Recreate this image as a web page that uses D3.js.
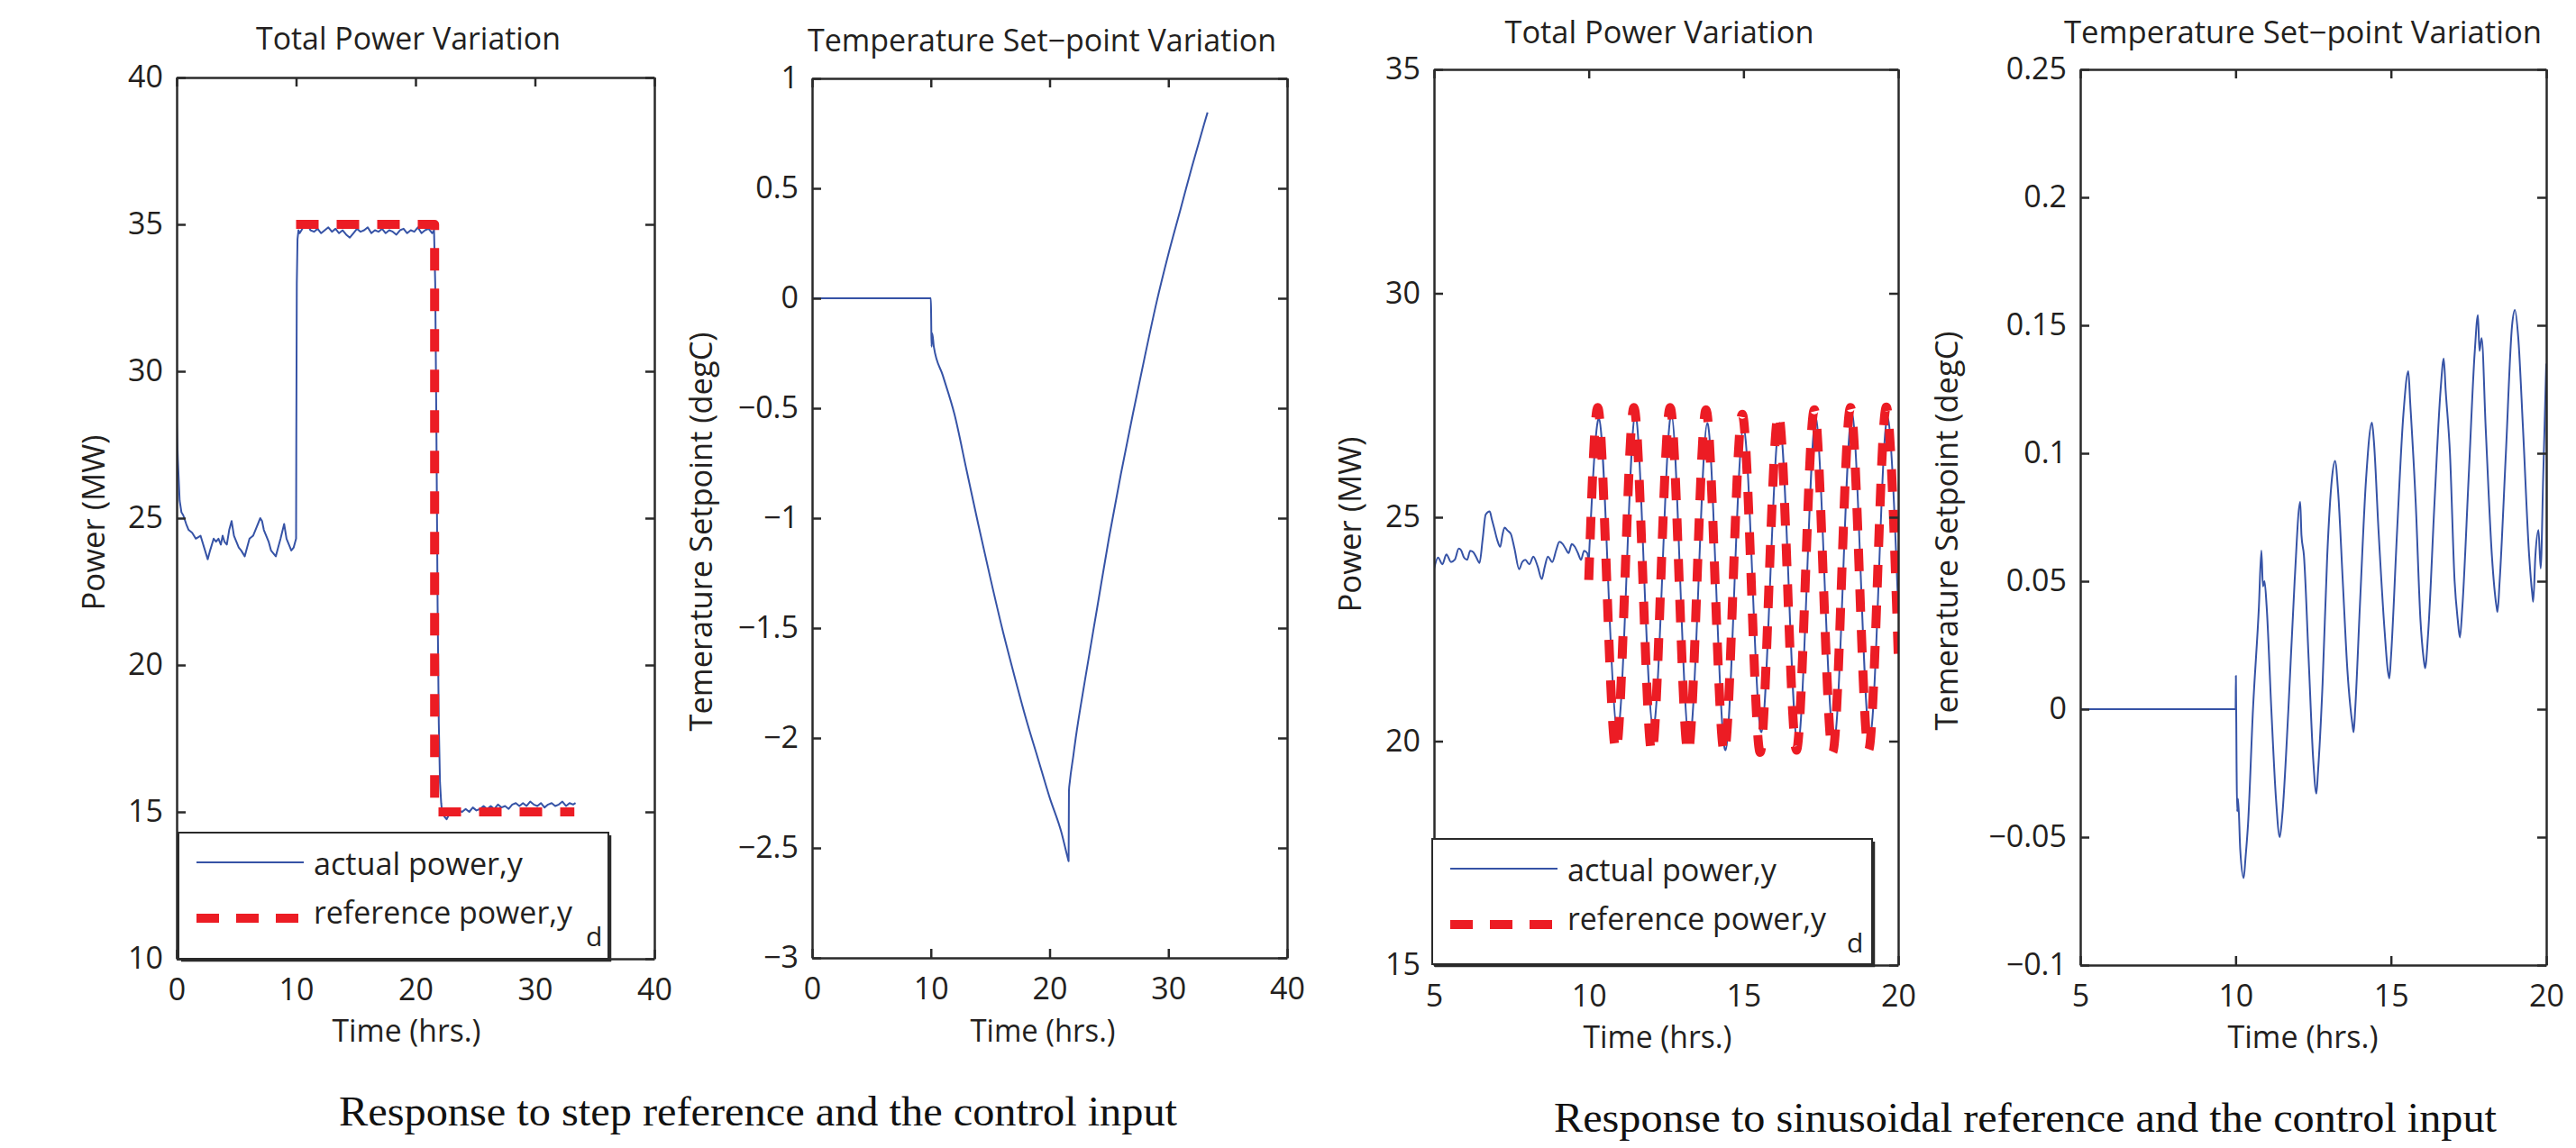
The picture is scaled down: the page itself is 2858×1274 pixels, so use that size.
<!DOCTYPE html>
<html>
<head>
<meta charset="utf-8">
<script src="https://cdn.jsdelivr.net/npm/d3@7"></script>
<style>
  body { margin: 0; background: #fff; }
  svg { display: block; }
</style>
</head>
<body>
<svg id="chart" width="2858" height="1274"></svg>
<script>
// ---------- data ----------

// panel 1: step reference, total power
const p1Time = [0, 0.1, 0.25, 0.4, 0.55, 0.8, 1.0, 1.3, 1.6, 2.0, 2.3, 2.6, 2.8, 3.1, 3.3, 3.5, 3.7, 3.85, 4.0, 4.2,
  4.4, 4.6, 4.8, 5.0, 5.2, 5.4, 5.7, 5.9, 6.1, 6.4, 6.7, 7.0, 7.15, 7.3, 7.5, 7.7, 7.9, 8.1, 8.3, 8.5,
  8.7, 9.0, 9.2, 9.4, 9.6, 9.8, 10.0, 10.02, 10.06, 10.12, 10.2,
  10.3, 10.6, 10.9, 11.2, 11.5, 11.8, 12.1, 12.4, 12.7, 13.0, 13.3, 13.6, 13.9, 14.2, 14.5, 14.8, 15.1, 15.4,
  15.7, 16.0, 16.3, 16.6, 16.9, 17.2, 17.5, 17.8, 18.1, 18.4, 18.7, 19.0, 19.3, 19.6, 19.9, 20.2, 20.5, 20.8,
  21.1, 21.4, 21.55, 21.65, 21.75, 21.85, 21.95, 22.05, 22.15,
  22.2, 22.4, 22.6, 22.8, 23.0, 23.3, 23.6, 23.9, 24.2, 24.5, 24.8, 25.1, 25.4, 25.7, 26.0, 26.3, 26.6, 26.9,
  27.2, 27.5, 27.8, 28.1, 28.4, 28.7, 29.0, 29.3, 29.6, 29.9, 30.2, 30.5, 30.8, 31.1, 31.4, 31.7, 32.0, 32.3,
  32.6, 32.9, 33.2, 33.4];
const p1Power = [28.3, 27.0, 25.6, 25.2, 25.1, 24.8, 24.6, 24.5, 24.3, 24.4, 24.0, 23.6, 23.9, 24.3, 24.2, 24.3, 24.1, 24.4, 24.2, 24.1,
  24.6, 24.9, 24.4, 24.2, 24.0, 23.9, 23.7, 24.0, 24.3, 24.4, 24.7, 25.0, 24.9, 24.6, 24.4, 24.2, 23.9, 23.8, 23.7, 24.0,
  24.3, 24.8, 24.3, 24.1, 23.9, 24.0, 24.3, 28.0, 33.0, 34.5, 34.8,
  34.7, 34.9, 35.05, 34.8, 34.75, 34.85, 34.7, 34.8, 34.9, 34.75, 34.85, 34.7, 34.8, 34.65, 34.55, 34.7, 34.85, 34.75,
  34.8, 34.9, 34.7, 34.8, 34.75, 34.85, 34.7, 34.8, 34.75, 34.65, 34.8, 34.85, 34.7, 34.8, 34.75, 34.9, 34.7, 34.8,
  34.85, 34.7, 34.8, 33.0, 28.0, 22.0, 18.0, 16.0, 15.3,
  15.1, 14.85, 14.75, 14.9, 15.0, 14.95, 15.05, 15.0, 15.1, 15.0, 15.15, 15.05, 15.1, 15.2, 15.1, 15.2, 15.1, 15.25,
  15.15, 15.2, 15.1, 15.25, 15.3, 15.2, 15.3, 15.2, 15.35, 15.25, 15.2, 15.3, 15.15, 15.25, 15.3, 15.2, 15.25, 15.35,
  15.2, 15.3, 15.25, 15.3];
const p1RefTime = [10, 21.6, 21.6, 33.3];
const p1RefPower = [35, 35, 15, 15];
const p1XTicks = [0, 10, 20, 30, 40];
const p1XLabels = ["0", "10", "20", "30", "40"];
const p1YTicks = [10, 15, 20, 25, 30, 35, 40];
const p1YLabels = ["10", "15", "20", "25", "30", "35", "40"];

// panel 2: step reference, temperature set-point
const p2Time = [0, 10, 10.03, 10.06, 10.12, 10.25, 11, 12, 13, 14, 15, 16, 17, 18, 19, 20, 21, 21.55,
  21.6, 21.63, 21.7, 22, 22.2, 23, 24, 25, 26, 27, 28, 29, 30, 31, 32, 33, 33.3];
const p2Setpoint = [0, 0, -0.1, -0.22, -0.16, -0.22, -0.35, -0.53, -0.78, -1.03, -1.27, -1.5, -1.71, -1.91, -2.09, -2.27, -2.43, -2.55,
  -2.56, -2.24, -2.2, -2.08, -2.0, -1.73, -1.41, -1.09, -0.8, -0.53, -0.27, -0.02, 0.2, 0.4, 0.6, 0.79, 0.845];
const p2XTicks = [0, 10, 20, 30, 40];
const p2XLabels = ["0", "10", "20", "30", "40"];
const p2YTicks = [-3, -2.5, -2, -1.5, -1, -0.5, 0, 0.5, 1];
const p2YLabels = ["\u22123", "\u22122.5", "\u22122", "\u22121.5", "\u22121", "\u22120.5", "0", "0.5", "1"];

// panel 3: sinusoidal reference, total power
const p3PreTime = [5.0, 5.13, 5.27, 5.4, 5.55, 5.67, 5.8, 5.87, 5.97, 6.07, 6.17, 6.27, 6.37, 6.47, 6.57, 6.67, 6.8, 6.87,
  6.94, 7.04, 7.14, 7.21, 7.28, 7.38, 7.48, 7.6, 7.75, 7.85, 7.95, 8.08, 8.21, 8.35, 8.48, 8.58, 8.68, 8.82,
  8.95, 9.05, 9.15, 9.25, 9.35, 9.45, 9.55, 9.65, 9.75, 9.85, 9.95, 10.0];
const p3PrePower = [23.84, 24.1, 23.95, 24.17, 24.0, 24.05, 24.3, 24.27, 24.1, 24.05, 24.25, 24.22, 24.1, 23.98, 24.5, 25.06, 25.13, 24.95,
  24.77, 24.5, 24.34, 24.6, 24.77, 24.7, 24.63, 24.3, 23.84, 24.0, 24.05, 23.95, 24.12, 23.9, 23.62, 23.9, 24.12, 24.0,
  24.27, 24.45, 24.41, 24.3, 24.2, 24.4, 24.34, 24.2, 24.05, 24.25, 24.2, 24.0];
const p3SineTime = [10.0, 10.33, 10.62, 10.92, 11.21, 11.5, 11.79, 12.08, 12.37, 12.67, 12.96, 13.25, 13.54, 13.83, 14.12, 14.42,
  14.71, 15.0, 15.29, 15.58, 15.87, 16.17, 16.46, 16.75, 17.04, 17.33, 17.62, 17.92, 18.21, 18.5, 18.79, 19.08,
  19.37, 19.67, 19.96, 20.0];
const p3SinePower = [24.0, 27.2, 23.7, 20.2, 23.5, 27.3, 23.7, 20.3, 23.6, 27.3, 23.5, 20.0, 23.4, 27.1, 23.4, 19.8,
  23.5, 27.0, 23.6, 20.2, 23.7, 27.1, 23.5, 19.9, 23.4, 27.2, 23.6, 20.0, 23.5, 27.3, 23.7, 20.1,
  23.6, 27.2, 23.7, 23.2];
const p3RefTime = [10, 10.29, 10.58, 10.88, 11.17, 11.46, 11.75, 12.04, 12.33, 12.63, 12.92, 13.21, 13.5, 13.79, 14.08, 14.38,
  14.67, 14.96, 15.25, 15.54, 15.83, 16.13, 16.42, 16.71, 17.0, 17.29, 17.58, 17.88, 18.17, 18.46, 18.75, 19.04,
  19.33, 19.63, 19.92, 20.0];
const p3RefPower = [23.6, 27.45, 23.6, 19.8, 23.6, 27.45, 23.6, 19.75, 23.6, 27.45, 23.6, 19.75, 23.6, 27.4, 23.6, 19.75,
  23.6, 27.3, 23.6, 19.75, 23.6, 27.3, 23.6, 19.8, 23.6, 27.4, 23.6, 19.75, 23.6, 27.45, 23.6, 19.8,
  23.6, 27.45, 23.6, 21.95];
const p3XTicks = [5, 10, 15, 20];
const p3XLabels = ["5", "10", "15", "20"];
const p3YTicks = [15, 20, 25, 30, 35];
const p3YLabels = ["15", "20", "25", "30", "35"];

// panel 4: sinusoidal reference, temperature set-point
const p4Time = [5, 10.0, 10.01, 10.03, 10.05, 10.08, 10.15, 10.26, 10.32, 10.4, 10.56, 10.75, 10.83, 10.88, 10.93, 11.0,
  11.15, 11.3, 11.42, 11.5, 11.7, 11.9, 12.08, 12.12, 12.2, 12.35, 12.5, 12.6, 12.65, 12.8, 12.95, 13.1,
  13.2, 13.3, 13.45, 13.6, 13.75, 13.8, 13.85, 14.0, 14.2, 14.39, 14.45, 14.6, 14.8, 14.9, 14.95, 15.0,
  15.2, 15.4, 15.56, 15.62, 15.8, 15.95, 16.05, 16.1, 16.2, 16.4, 16.6, 16.7, 16.76, 16.9, 17.05, 17.15,
  17.22, 17.3, 17.5, 17.7, 17.8, 17.85, 17.92, 18.05, 18.25, 18.4, 18.43, 18.5, 18.7, 18.9, 18.99, 19.1,
  19.25, 19.45, 19.55, 19.58, 19.65, 19.75, 19.82, 19.9, 20.0];
const p4Setpoint = [0, 0, 0.013, -0.02, -0.04, -0.035, -0.055, -0.066, -0.058, -0.045, 0.0, 0.04, 0.062, 0.048, 0.05, 0.04,
  0.0, -0.035, -0.05, -0.042, 0.0, 0.05, 0.081, 0.068, 0.06, 0.02, -0.02, -0.033, -0.025, 0.01, 0.06, 0.09,
  0.097, 0.085, 0.05, 0.015, -0.005, -0.009, 0.0, 0.04, 0.09, 0.112, 0.105, 0.07, 0.03, 0.015, 0.012, 0.02,
  0.07, 0.115, 0.132, 0.12, 0.08, 0.035, 0.02, 0.016, 0.03, 0.08, 0.125, 0.137, 0.125, 0.1, 0.05, 0.035,
  0.028, 0.04, 0.09, 0.14, 0.154, 0.14, 0.145, 0.11, 0.06, 0.04, 0.038, 0.05, 0.1, 0.15, 0.156, 0.145,
  0.11, 0.06, 0.045, 0.042, 0.06, 0.07, 0.055, 0.09, 0.135];
const p4XTicks = [5, 10, 15, 20];
const p4XLabels = ["5", "10", "15", "20"];
const p4YTicks = [-0.1, -0.05, 0, 0.05, 0.1, 0.15, 0.2, 0.25];
const p4YLabels = ["\u22120.1", "\u22120.05", "0", "0.05", "0.1", "0.15", "0.2", "0.25"];

const legendLabels = ["actual power,y", "reference power,y"];

// ---------- styles ----------
const BLUE = "#3653a6";
const RED = "#ec1c24";
const INK = "#231f20";
const AXIS_COLOR = "#2a2a2a";
const FONT = "'Open Sans', 'Liberation Sans', sans-serif";
const SERIF = "'Liberation Serif', 'DejaVu Serif', serif";

const svg = d3.select("#chart");

const zip = (xs, ys) => xs.map((t, i) => [t, ys[i]]);

const panels = [
  {
    id: "p1", left: 196, right: 726, top: 86, bottom: 1064,
    xDomain: [0, 40], yDomain: [10, 40],
    xTicks: p1XTicks, xLabels: p1XLabels, yTicks: p1YTicks, yLabels: p1YLabels,
    title: "Total Power Variation", titleX: 453, titleY: 55, titleLen: 338,
    yLabel: "Power (MW)", yLabelX: 116, yLabelY: 580, yLabelLen: 195,
    xLabelX: 451, xLabelY: 1156, xLabelLen: 165,
    series: [
      { data: zip(p1Time, p1Power), color: BLUE, width: 2, curve: d3.curveLinear },
      { data: zip(p1RefTime, p1RefPower), color: RED, width: 10, dash: "25,20", curve: d3.curveLinear }
    ],
    legend: { left: 198, right: 675, top: 924, bottom: 1064, dX: 650 }
  },
  {
    id: "p2", left: 901, right: 1428, top: 87, bottom: 1063,
    xDomain: [0, 40], yDomain: [-3, 1],
    xTicks: p2XTicks, xLabels: p2XLabels, yTicks: p2YTicks, yLabels: p2YLabels,
    title: "Temperature Set\u2212point Variation", titleX: 1156, titleY: 57, titleLen: 520,
    yLabel: "Temerature Setpoint (degC)", yLabelX: 790, yLabelY: 590, yLabelLen: 443,
    xLabelX: 1157, xLabelY: 1156, xLabelLen: 161,
    series: [
      { data: zip(p2Time, p2Setpoint), color: BLUE, width: 2, curve: d3.curveMonotoneX }
    ]
  },
  {
    id: "p3", left: 1591, right: 2106, top: 77, bottom: 1071,
    xDomain: [5, 20], yDomain: [15, 35],
    xTicks: p3XTicks, xLabels: p3XLabels, yTicks: p3YTicks, yLabels: p3YLabels,
    title: "Total Power Variation", titleX: 1841, titleY: 48, titleLen: 343,
    yLabel: "Power (MW)", yLabelX: 1510, yLabelY: 582, yLabelLen: 195,
    xLabelX: 1839, xLabelY: 1163, xLabelLen: 165,
    series: [
      { data: zip(p3PreTime, p3PrePower), color: BLUE, width: 2, curve: d3.curveMonotoneX },
      { data: zip(p3SineTime, p3SinePower), color: BLUE, width: 2, curve: d3.curveNatural },
      { data: zip(p3RefTime, p3RefPower), color: RED, width: 10, dash: "25,20", curve: d3.curveNatural }
    ],
    legend: { left: 1589, right: 2077, top: 931, bottom: 1070, dX: 2049 }
  },
  {
    id: "p4", left: 2308, right: 2825, top: 77, bottom: 1071,
    xDomain: [5, 20], yDomain: [-0.1, 0.25],
    xTicks: p4XTicks, xLabels: p4XLabels, yTicks: p4YTicks, yLabels: p4YLabels,
    title: "Temperature Set\u2212point Variation", titleX: 2555, titleY: 48, titleLen: 530,
    yLabel: "Temerature Setpoint (degC)", yLabelX: 2172, yLabelY: 589, yLabelLen: 443,
    xLabelX: 2555, xLabelY: 1163, xLabelLen: 167,
    series: [
      { data: zip(p4Time, p4Setpoint), color: BLUE, width: 2, curve: d3.curveMonotoneX }
    ]
  }
];

function styleAxis(sel) {
  sel.attr("font-family", FONT).attr("font-size", 34);
  sel.selectAll(".domain").attr("stroke", AXIS_COLOR).attr("stroke-width", 2.5);
  sel.selectAll(".tick line").attr("stroke", AXIS_COLOR).attr("stroke-width", 2.5);
  sel.selectAll(".tick text").attr("fill", INK);
}

function drawLegend(g, L) {
  g.append("rect")
    .attr("x", L.left).attr("y", L.top)
    .attr("width", L.right - L.left).attr("height", L.bottom - L.top)
    .attr("fill", "#fff").attr("stroke", AXIS_COLOR).attr("stroke-width", 2);
  // little drop shadow like the MATLAB legend box
  g.append("path")
    .attr("d", `M${L.left + 3},${L.bottom + 2}H${L.right + 2}V${L.top + 3}`)
    .attr("fill", "none").attr("stroke", AXIS_COLOR).attr("stroke-width", 2.5);

  g.append("line")
    .attr("x1", L.left + 20).attr("x2", L.left + 139)
    .attr("y1", L.top + 33).attr("y2", L.top + 33)
    .attr("stroke", BLUE).attr("stroke-width", 2);
  g.append("line")
    .attr("x1", L.left + 20).attr("x2", L.left + 134)
    .attr("y1", L.top + 95).attr("y2", L.top + 95)
    .attr("stroke", RED).attr("stroke-width", 10).attr("stroke-dasharray", "25,19");

  const textSel = g.append("g").attr("font-family", FONT).attr("font-size", 34).attr("fill", INK);
  textSel.append("text").attr("x", L.left + 150).attr("y", L.top + 47)
    .attr("textLength", 232).attr("lengthAdjust", "spacingAndGlyphs").text(legendLabels[0]);
  textSel.append("text").attr("x", L.left + 150).attr("y", L.top + 101)
    .attr("textLength", 287).attr("lengthAdjust", "spacingAndGlyphs").text(legendLabels[1]);
  textSel.append("text").attr("x", L.dX).attr("y", L.top + 126)
    .attr("font-size", 30).text("d");
}

function drawPanel(p) {
  const x = d3.scaleLinear().domain(p.xDomain).range([p.left, p.right]);
  const y = d3.scaleLinear().domain(p.yDomain).range([p.bottom, p.top]);
  const g = svg.append("g").attr("id", p.id);

  g.append("clipPath").attr("id", `clip-${p.id}`)
    .append("rect")
    .attr("x", p.left).attr("y", p.top)
    .attr("width", p.right - p.left).attr("height", p.bottom - p.top);

  const plot = g.append("g").attr("clip-path", `url(#clip-${p.id})`);
  p.series.forEach(s => {
    const line = d3.line().x(d => x(d[0])).y(d => y(d[1])).curve(s.curve);
    plot.append("path")
      .datum(s.data)
      .attr("d", line)
      .attr("fill", "none")
      .attr("stroke", s.color)
      .attr("stroke-width", s.width)
      .attr("stroke-dasharray", s.dash || null)
      .attr("stroke-linejoin", "round");
  });

  // box axes, ticks pointing inward on all four sides
  g.append("g").attr("transform", `translate(0,${p.bottom})`)
    .call(d3.axisBottom(x).tickValues(p.xTicks).tickFormat((d, i) => p.xLabels[i])
      .tickSize(-10).tickSizeOuter(0).tickPadding(22))
    .call(styleAxis);
  g.append("g").attr("transform", `translate(0,${p.top})`)
    .call(d3.axisTop(x).tickValues(p.xTicks).tickFormat("").tickSize(-10).tickSizeOuter(0))
    .call(styleAxis);
  g.append("g").attr("transform", `translate(${p.left},0)`)
    .call(d3.axisLeft(y).tickValues(p.yTicks).tickFormat((d, i) => p.yLabels[i])
      .tickSize(-10).tickSizeOuter(0).tickPadding(15))
    .call(styleAxis);
  g.append("g").attr("transform", `translate(${p.right},0)`)
    .call(d3.axisRight(y).tickValues(p.yTicks).tickFormat("").tickSize(-10).tickSizeOuter(0))
    .call(styleAxis);

  const labels = g.append("g").attr("font-family", FONT).attr("font-size", 34).attr("fill", INK);
  labels.append("text")
    .attr("x", p.titleX).attr("y", p.titleY)
    .attr("text-anchor", "middle")
    .attr("textLength", p.titleLen).attr("lengthAdjust", "spacingAndGlyphs")
    .text(p.title);
  labels.append("text")
    .attr("x", p.xLabelX).attr("y", p.xLabelY)
    .attr("text-anchor", "middle")
    .attr("textLength", p.xLabelLen).attr("lengthAdjust", "spacingAndGlyphs")
    .text("Time (hrs.)");
  labels.append("text")
    .attr("transform", `translate(${p.yLabelX},${p.yLabelY}) rotate(-90)`)
    .attr("text-anchor", "middle")
    .attr("textLength", p.yLabelLen).attr("lengthAdjust", "spacingAndGlyphs")
    .text(p.yLabel);

  if (p.legend) drawLegend(g, p.legend);
}

panels.forEach(drawPanel);

// figure captions
const captions = svg.append("g").attr("font-family", SERIF).attr("font-size", 46).attr("fill", "#111");
captions.append("text").attr("x", 376).attr("y", 1249)
  .attr("textLength", 930).attr("lengthAdjust", "spacingAndGlyphs")
  .text("Response to step reference and the control input");
captions.append("text").attr("x", 1724).attr("y", 1256)
  .attr("textLength", 1046).attr("lengthAdjust", "spacingAndGlyphs")
  .text("Response to sinusoidal reference and the control input");
</script>
</body>
</html>
